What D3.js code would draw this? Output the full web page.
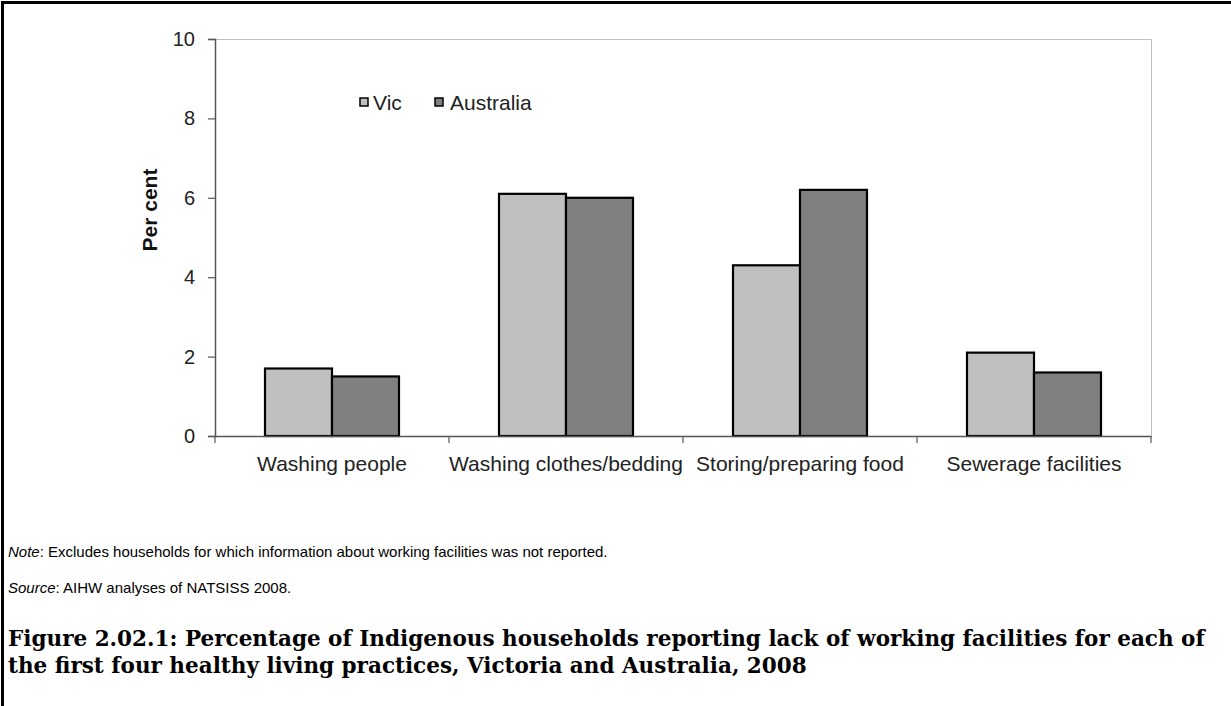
<!DOCTYPE html>
<html><head><meta charset="utf-8">
<script src="https://cdn.jsdelivr.net/npm/d3@7"></script>
<style>html,body{margin:0;padding:0;background:#fff;}svg{display:block;}</style>
</head><body>
<svg id="chart" width="1231" height="706"></svg>
<script>
const categories = ["Washing people", "Washing clothes/bedding", "Storing/preparing food", "Sewerage facilities"];
const seriesNames = ["Vic", "Australia"];
const vicValues = [1.7, 6.1, 4.3, 2.1];
const australiaValues = [1.5, 6.0, 6.2, 1.6];
const yTicks = [0, 2, 4, 6, 8, 10];
const seriesColors = ["#c0c0c0", "#808080"];

const svg = d3.select("#chart");
const W = 1231, H = 706;
const plot = {left: 215, right: 1151, top: 39, bottom: 436};
const sans = "Liberation Sans, Arial, sans-serif";

// outer border (left and top)
svg.append("line").attr("x1", 2.5).attr("x2", 2.5).attr("y1", 1).attr("y2", H).attr("stroke", "#000").attr("stroke-width", 3);
svg.append("line").attr("x1", 1).attr("x2", W).attr("y1", 2.5).attr("y2", 2.5).attr("stroke", "#000").attr("stroke-width", 3);

const x0 = d3.scaleBand().domain(categories).range([plot.left, plot.right]).paddingInner(0).paddingOuter(0);
const groupW = 134;
const x1 = d3.scaleBand().domain(seriesNames).range([0, groupW]).padding(0);
const y = d3.scaleLinear().domain([0, 10]).range([plot.bottom, plot.top]);

// plot-area top & right border (light gray)
svg.append("path")
  .attr("d", `M${plot.left},${y(10)+0.5}H${plot.right+0.5}V${plot.bottom}`)
  .attr("fill", "none").attr("stroke", "#c0c0c0").attr("stroke-width", 1);

const data = categories.map((c, i) => ({cat: c, vals: [vicValues[i], australiaValues[i]]}));

const groups = svg.append("g").selectAll("g").data(data).join("g")
  .attr("transform", d => `translate(${x0(d.cat) + x0.bandwidth()/2 - groupW/2},0)`);
groups.selectAll("rect").data(d => d.vals.map((v, j) => ({s: seriesNames[j], v, j}))).join("rect")
  .attr("x", d => x1(d.s))
  .attr("y", d => y(d.v))
  .attr("width", x1.bandwidth())
  .attr("height", d => y(0) - y(d.v))
  .attr("fill", d => seriesColors[d.j])
  .attr("stroke", "#000").attr("stroke-width", 2.2);

// y axis
const yAxis = d3.axisLeft(y).tickValues(yTicks).tickSize(7).tickPadding(13).tickFormat(d3.format("d"));
const gy = svg.append("g").attr("transform", `translate(${plot.left},0)`).call(yAxis);
gy.select(".domain").attr("stroke", "#555").attr("stroke-width", 1.5);
gy.selectAll(".tick line").attr("stroke", "#555").attr("stroke-width", 1.2);
gy.selectAll(".tick text").attr("font-family", sans).attr("font-size", 20).attr("fill", "#222");

// x axis
const xAxis = d3.axisBottom(x0).tickSize(0).tickPadding(20);
const gx = svg.append("g").attr("transform", `translate(0,${plot.bottom})`).call(xAxis);
gx.select(".domain").attr("stroke", "#555").attr("stroke-width", 1.5);
gx.selectAll(".tick text").attr("font-family", sans).attr("font-size", 21).attr("fill", "#222");
// category boundary ticks
const boundaries = d3.range(categories.length + 1).map(i => plot.left + i * x0.step());
svg.append("g").selectAll("line").data(boundaries).join("line")
  .attr("x1", d => d).attr("x2", d => d)
  .attr("y1", plot.bottom).attr("y2", plot.bottom + 7)
  .attr("stroke", "#555").attr("stroke-width", 1.2);

// y title
svg.append("text")
  .attr("transform", `translate(157,210) rotate(-90)`)
  .attr("text-anchor", "middle")
  .attr("font-family", sans).attr("font-weight", "bold").attr("font-size", 21).attr("fill", "#111")
  .text("Per cent");

// legend
const legendPos = [{x: 360, tx: 373}, {x: 435, tx: 450}];
const lg = svg.append("g").selectAll("g").data(seriesNames).join("g");
lg.append("rect")
  .attr("x", (d, i) => legendPos[i].x).attr("y", 98).attr("width", 8).attr("height", 8)
  .attr("fill", (d, i) => seriesColors[i]).attr("stroke", "#000").attr("stroke-width", 1.5);
lg.append("text")
  .attr("x", (d, i) => legendPos[i].tx).attr("y", 110)
  .attr("font-family", sans).attr("font-size", 21).attr("fill", "#222")
  .text(d => d);

// notes
const note = svg.append("text").attr("x", 8).attr("y", 557)
  .attr("font-family", sans).attr("font-size", 15).attr("fill", "#000");
note.append("tspan").attr("font-style", "italic").text("Note");
note.append("tspan").text(": Excludes households for which information about working facilities was not reported.");
const src = svg.append("text").attr("x", 8).attr("y", 593)
  .attr("font-family", sans).attr("font-size", 15).attr("fill", "#000");
src.append("tspan").attr("font-style", "italic").text("Source");
src.append("tspan").text(": AIHW analyses of NATSISS 2008.");

// title
const titleLines = ["Figure 2.02.1: Percentage of Indigenous households reporting lack of working facilities for each of",
                    "the first four healthy living practices, Victoria and Australia, 2008"];
const serif = "DejaVu Serif, serif";
const t1 = svg.append("text").attr("x", 8).attr("y", 646)
  .attr("font-family", serif).attr("font-weight", "bold").attr("font-size", 20).attr("fill", "#000")
  .text(titleLines[0]);
const w1 = t1.node().getComputedTextLength();
const tfs = 20 * 1197 / w1;
t1.attr("font-size", tfs);
svg.append("text").attr("x", 8).attr("y", 673)
  .attr("font-family", serif).attr("font-weight", "bold").attr("font-size", tfs).attr("fill", "#000")
  .text(titleLines[1]);
</script>
</body></html>
